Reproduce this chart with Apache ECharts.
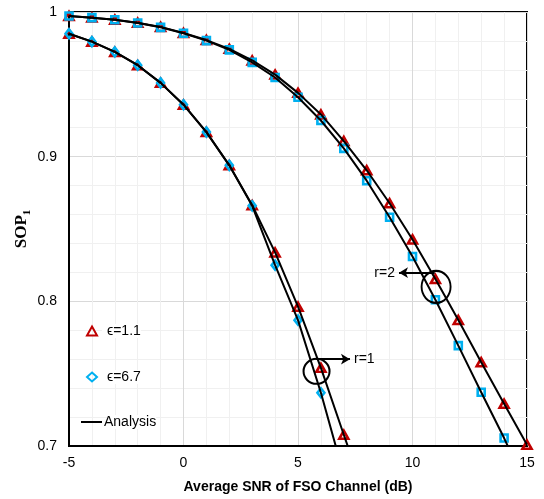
<!DOCTYPE html>
<html>
<head>
<meta charset="utf-8">
<script src="https://cdn.jsdelivr.net/npm/echarts@6/dist/echarts.min.js"></script>
<style>
  html, body { margin: 0; padding: 0; background: #fff; }
  #chart { width: 544px; height: 499px; }
</style>
</head>
<body>
<div id="chart"></div>
<script>
// Average SNR of FSO channel (dB)
const snr = [-5, -4, -3, -2, -1, 0, 1, 2, 3, 4, 5, 6, 7, 8, 9, 10, 11, 12, 13, 14, 15];

// SOP values, r = 1
const r1Eps11 = [0.985, 0.9795, 0.9724, 0.9632, 0.951, 0.9359, 0.917, 0.894, 0.8664, 0.8338, 0.7963, 0.754, 0.7078, 0.662];
const r1Eps67 = [0.985, 0.9795, 0.9724, 0.9632, 0.951, 0.9359, 0.917, 0.894, 0.866, 0.825, 0.787, 0.7368, 0.68];

// SOP values, r = 2
const r2Eps11 = [0.9972, 0.9961, 0.9947, 0.9926, 0.9897, 0.9855, 0.9806, 0.9745, 0.9665, 0.9567, 0.9441,
                 0.9292, 0.9108, 0.8906, 0.8678, 0.8428, 0.8154, 0.7871, 0.7579, 0.7292, 0.7009];
const r2Eps67 = [0.9972, 0.9961, 0.9946, 0.9924, 0.9894, 0.9853, 0.9802, 0.9738, 0.9652, 0.9547, 0.9411,
                 0.925, 0.9057, 0.8834, 0.8581, 0.831, 0.8011, 0.7694, 0.7372, 0.7055, 0.671];

const xTicks = { min: -5, max: 15, step: 5 };
const yTicks = { min: 0.7, max: 1, step: 0.1 };

const nameE11 = 'ϵ=1.1';
const nameE67 = 'ϵ=6.7';
const nameAna = 'Analysis';

// annotation anchors in data space
const ringR1 = [5.81, 0.7516];
const ringR2 = [11.03, 0.81];
const arrowR1 = [[5.77, 0.76], [7.27, 0.76]];
const arrowR2 = [[10.97, 0.8198], [9.41, 0.8198]];

const RED = '#C00000';
const CYAN = '#00B0F0';

function pairs(ys) { return ys.map((y, i) => [snr[i], y]); }

function analysisLine(ys, extra) {
  return Object.assign({
    name: nameAna, type: 'line', data: pairs(ys), symbol: 'none',
    lineStyle: { color: '#000', width: 2 }, itemStyle: { color: '#000' },
    clip: true, z: 3, silent: true
  }, extra || {});
}

function marks(name, ys, symbol, size, color) {
  return {
    name: name, type: 'scatter', data: pairs(ys), symbol: symbol, symbolSize: size,
    itemStyle: { color: 'rgba(0,0,0,0)', borderColor: color, borderWidth: 2.6, opacity: 1 },
    clip: true, z: 2
  };
}

const chart = echarts.init(document.getElementById('chart'), null, { renderer: 'canvas' });

const ringStyle = { color: 'rgba(0,0,0,0)', borderColor: '#000', borderWidth: 2 };
const legendText = { fontFamily: 'Liberation Sans', fontSize: 14, color: '#000', backgroundColor: '#fff' };

chart.setOption({
  animation: false,
  backgroundColor: '#fff',
  grid: { left: 69, right: 17, top: 12, bottom: 52, show: true, borderColor: '#000', borderWidth: 2, backgroundColor: 'rgba(0,0,0,0)' },
  legend: [
    {
      orient: 'vertical', left: 81, top: 319, itemGap: 32, itemWidth: 10, itemHeight: 9,
      data: [nameE11, nameE67],
      textStyle: Object.assign({ padding: [0, 0, 0, 5] }, legendText)
    },
    {
      orient: 'vertical', left: 76, top: 410, itemWidth: 21, itemHeight: 2,
      data: [{ name: nameAna, icon: 'rect', itemStyle: { color: '#000' } }],
      textStyle: Object.assign({ padding: [0, 0, 0, -3] }, legendText)
    }
  ],
  xAxis: {
    type: 'value', min: xTicks.min, max: xTicks.max, interval: xTicks.step,
    axisLine: { show: true, onZero: false, lineStyle: { color: '#000', width: 2 } },
    axisTick: { show: false },
    axisLabel: { fontFamily: 'Liberation Sans', fontSize: 14, color: '#000', margin: 10 },
    splitLine: { show: true, lineStyle: { color: '#d9d9d9', width: 1 } },
    minorTick: { show: false, splitNumber: 5 },
    minorSplitLine: { show: true, lineStyle: { color: '#f0f0f0', width: 1 } },
    name: 'Average SNR of FSO Channel (dB)', nameLocation: 'middle', nameGap: 34,
    nameTextStyle: { fontFamily: 'Liberation Sans', fontSize: 14, fontWeight: 'bold', color: '#000' }
  },
  yAxis: {
    type: 'value', min: yTicks.min, max: yTicks.max, interval: yTicks.step,
    axisLine: { show: true, onZero: false, lineStyle: { color: '#000', width: 2 } },
    axisTick: { show: false },
    axisLabel: { fontFamily: 'Liberation Sans', fontSize: 14, color: '#000', margin: 12 },
    splitLine: { show: true, lineStyle: { color: '#d9d9d9', width: 1 } },
    minorTick: { show: false, splitNumber: 5 },
    minorSplitLine: { show: true, lineStyle: { color: '#f0f0f0', width: 1 } },
    name: '{a|SOP}{b|1}', nameLocation: 'middle', nameGap: 39, nameRotate: 90, nameMoveOverlap: false,
    nameTextStyle: {
      rich: {
        a: { fontFamily: 'Liberation Serif', fontSize: 17, fontWeight: 'bold', color: '#000', lineHeight: 20, verticalAlign: 'bottom' },
        b: { fontFamily: 'Liberation Serif', fontSize: 11, fontWeight: 'bold', color: '#000', lineHeight: 20, verticalAlign: 'bottom', padding: [0, 0, -3, 0] }
      }
    }
  },
  series: [
    marks(nameE11, r1Eps11, 'triangle', [9, 8], RED),
    marks(nameE67, r1Eps67, 'diamond', [7, 9], CYAN),
    marks(nameE11, r2Eps11, 'triangle', [9, 8], RED),
    marks(nameE67, r2Eps67, 'rect', [7, 7], CYAN),
    analysisLine(r1Eps11, {
      markPoint: {
        silent: true, symbol: 'circle', symbolSize: [26, 25], label: { show: false }, itemStyle: ringStyle,
        data: [{ coord: ringR1 }]
      },
      markLine: {
        silent: true, symbol: ['none', 'arrow'], symbolSize: [8, 9],
        lineStyle: { color: '#000', width: 2, type: 'solid' },
        label: { show: true, position: 'end', formatter: 'r=1', fontFamily: 'Liberation Sans', fontSize: 14, color: '#000', distance: 4 },
        data: [[{ coord: arrowR1[0] }, { coord: arrowR1[1] }]]
      }
    }),
    analysisLine(r1Eps67),
    analysisLine(r2Eps11, {
      markPoint: {
        silent: true, symbol: 'circle', symbolSize: [29, 32], label: { show: false }, itemStyle: ringStyle,
        data: [{ coord: ringR2 }]
      },
      markLine: {
        silent: true, symbol: ['none', 'arrow'], symbolSize: [8, 9],
        lineStyle: { color: '#000', width: 2, type: 'solid' },
        label: { show: true, position: 'end', formatter: 'r=2', fontFamily: 'Liberation Sans', fontSize: 14, color: '#000', distance: 4 },
        data: [[{ coord: arrowR2[0] }, { coord: arrowR2[1] }]]
      }
    }),
    analysisLine(r2Eps67)
  ]
});
</script>
</body>
</html>
